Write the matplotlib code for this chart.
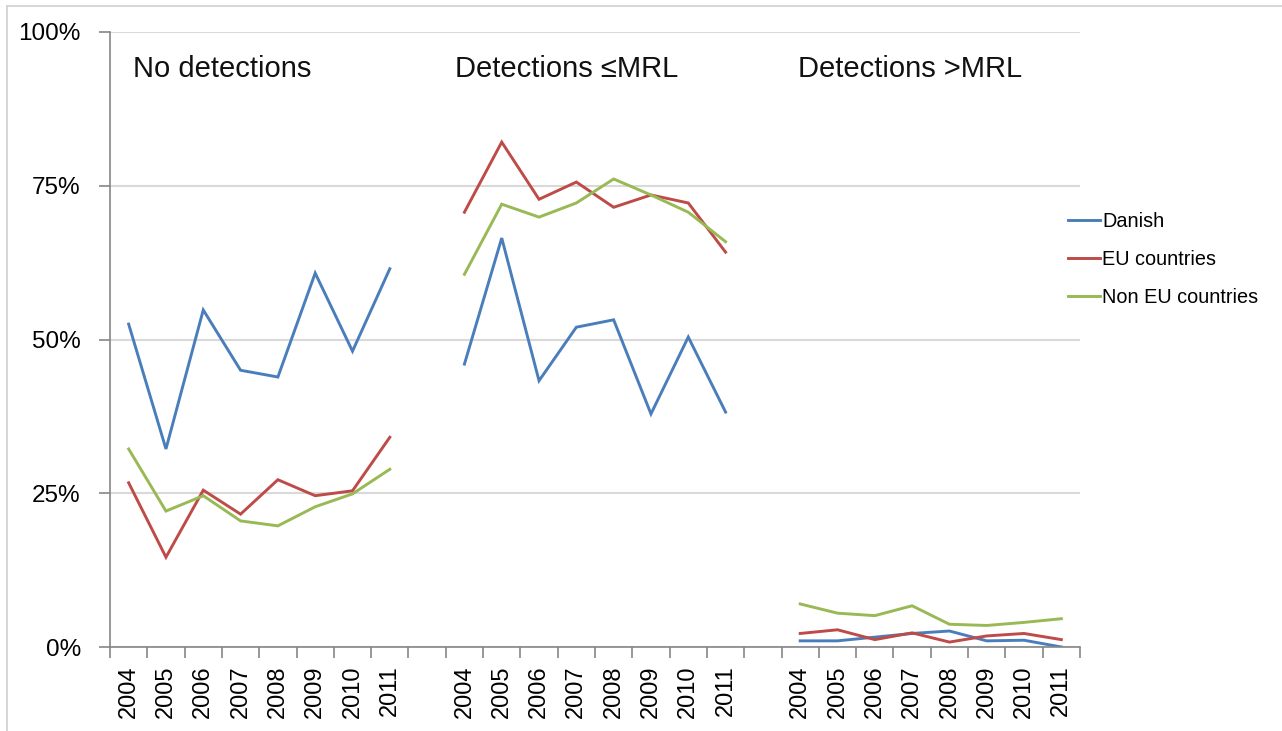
import numpy as np
import matplotlib
matplotlib.use('Agg')
import matplotlib.pyplot as plt
from matplotlib.lines import Line2D

plt.rcParams['font.family'] = ['Liberation Sans', 'DejaVu Sans']

years = ['2004', '2005', '2006', '2007', '2008', '2009', '2010', '2011']
groups = ['No detections', 'Detections \u2264MRL', 'Detections >MRL']

# percent of samples, one list of 8 years per group
danish = [
    [52.5, 32.2, 54.8, 45.0, 43.9, 60.8, 48.1, 61.5],
    [46.0, 66.5, 43.3, 52.0, 53.2, 37.9, 50.4, 38.2],
    [1.0, 1.0, 1.6, 2.2, 2.6, 1.0, 1.1, 0.0],
]
eu = [
    [26.7, 14.6, 25.5, 21.6, 27.2, 24.6, 25.4, 34.1],
    [70.7, 82.1, 72.8, 75.6, 71.5, 73.5, 72.2, 64.2],
    [2.2, 2.8, 1.2, 2.3, 0.8, 1.8, 2.2, 1.2],
]
non_eu = [
    [32.2, 22.1, 24.6, 20.5, 19.7, 22.8, 24.9, 28.9],
    [60.6, 72.0, 69.9, 72.2, 76.1, 73.5, 70.7, 65.9],
    [7.0, 5.5, 5.1, 6.7, 3.7, 3.5, 4.0, 4.6],
]

series = [('Danish', danish, '#4a7ebb'),
          ('EU countries', eu, '#be4b48'),
          ('Non EU countries', non_eu, '#98b954')]

n = len(years)
gap = 1
total = len(groups) * n + (len(groups) - 1) * gap

fig = plt.figure(figsize=(12.82, 7.31), dpi=100)
ax = fig.add_axes([110 / 1282, 1 - 647 / 731, 970 / 1282, 615 / 731])

for name, data, color in series:
    for g in range(len(groups)):
        x = np.arange(n) + g * (n + gap) + 0.5
        ax.plot(x, data[g], color=color, lw=2.1,
                label=name if g == 0 else None, solid_joinstyle='miter')

ax.set_xlim(0, total)
ax.set_ylim(0, 100)

# x ticks: marks at slot edges, labels at slot centres
ax.set_xticks(np.arange(total + 1))
ax.set_xticklabels([])
label_pos = []
label_txt = []
for g in range(len(groups)):
    for i, y in enumerate(years):
        label_pos.append(g * (n + gap) + i + 0.5)
        label_txt.append(y)
ax.set_xticks(label_pos, minor=True)
ax.set_xticklabels(label_txt, minor=True, rotation=90, fontsize=17)
ax.tick_params(axis='x', which='major', length=8, width=1.2, color='#868686', direction='out')
ax.tick_params(axis='x', which='minor', length=0, pad=13)

ax.set_yticks([0, 25, 50, 75, 100])
ax.set_yticklabels(['0%', '25%', '50%', '75%', '100%'], fontsize=17.5)
ax.tick_params(axis='y', length=8, width=1.2, color='#868686', pad=13)

ax.grid(axis='y', color='#d9d9d9', lw=1.5)
ax.set_axisbelow(True)
for s in ['top', 'right']:
    ax.spines[s].set_visible(False)
for s in ['left', 'bottom']:
    ax.spines[s].set_color('#868686')
    ax.spines[s].set_linewidth(1.2)

title_x = [0.0237, 0.3557, 0.709]
for tx, t in zip(title_x, groups):
    ax.text(tx, 94, t, transform=ax.get_yaxis_transform(), fontsize=21,
            va='center', ha='left', color='#111111')

ax.legend(loc='upper left', bbox_to_anchor=(1068 / 1282, 1 - 212 / 731),
          bbox_transform=fig.transFigure, frameon=False, fontsize=14.3,
          handlelength=1.6, handletextpad=0.12, labelspacing=0.95,
          borderaxespad=0, borderpad=0)

# thin frame lines along top and left of the picture
fig.add_artist(Line2D([7 / 1282, 7 / 1282], [0, 1 - 6 / 731],
                      transform=fig.transFigure, color='#d0d0d0', lw=1.2))
fig.add_artist(Line2D([7 / 1282, 1], [1 - 6 / 731, 1 - 6 / 731],
                      transform=fig.transFigure, color='#d0d0d0', lw=1.2))

fig.savefig('out.png', dpi=100)
